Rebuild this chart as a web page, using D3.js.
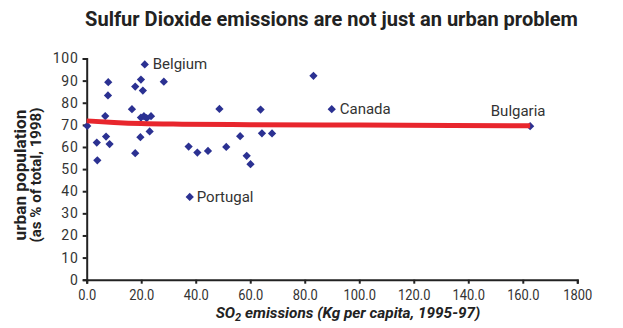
<!DOCTYPE html>
<html>
<head>
<meta charset="utf-8">
<script src="https://cdn.jsdelivr.net/npm/d3@7/dist/d3.min.js"></script>
<style>
  html, body { margin: 0; padding: 0; background: #fff; }
  svg { display: block; }
  text { font-family: Roboto, "Liberation Sans", sans-serif; }
</style>
</head>
<body>
<svg id="chart" width="623" height="328"></svg>
<script>
// SO2 emissions per capita (kg, 1995-97) against urban population share (% of total, 1998)
const so2 = [0.2, 3.7, 3.9, 6.8, 7.1, 7.9, 7.8, 8.4, 16.6, 17.8, 17.8, 19.9, 19.7, 20.6, 21.3,
             19.9, 21.0, 22.0, 23.6, 23.1, 28.3, 37.4, 37.8, 40.6, 44.5, 48.7, 51.2, 56.3, 58.7,
             60.1, 63.8, 64.3, 68.0, 83.2, 89.9, 162.7];
const urban = [69.5, 62.0, 54.0, 74.0, 64.7, 89.3, 83.3, 61.3, 77.1, 87.3, 57.2, 90.5, 64.4, 85.5, 97.3,
               73.3, 73.9, 73.0, 73.9, 67.0, 89.5, 60.2, 37.4, 57.5, 58.2, 77.2, 60.0, 64.9, 56.0,
               52.2, 76.9, 66.2, 66.1, 92.2, 77.1, 69.4];
const country = ["", "", "", "", "", "", "", "", "", "", "", "", "", "", "Belgium",
                 "", "", "", "", "", "", "", "Portugal", "", "", "", "", "", "",
                 "", "", "", "", "", "Canada", "Bulgaria"];

// Trend line through the cloud
const trendX = [0, 10, 20, 35, 60, 100, 162.7];
const trendY = [71.8, 71.1, 70.6, 70.3, 70.1, 69.9, 69.6];

const xTicks = [0, 20, 40, 60, 80, 100, 120, 140, 160, 180];
const xTickLabels = ["0.0", "20.0", "40.0", "60.0", "80.0", "100.0", "120.0", "140.0", "160.0", "1800"];
const yTicks = [0, 10, 20, 30, 40, 50, 60, 70, 80, 90, 100];

const svg = d3.select("#chart");
const ink = "#222";
const markColor = "#2b3192";
const lineColor = "#e8262d";

const x = d3.scaleLinear().domain([0, 180]).range([86.7, 577.3]);
const y = d3.scaleLinear().domain([0, 100]).range([279.7, 58.5]);

// fit a text element to a target width by adjusting its font size
function fitWidth(sel, target) {
  const node = sel.node();
  const fs = parseFloat(sel.attr("font-size"));
  const w = node.getComputedTextLength();
  sel.attr("font-size", (fs * target / w).toFixed(2));
}

// Title
const title = svg.append("text")
  .attr("x", 331.5).attr("y", 25.5)
  .attr("text-anchor", "middle")
  .attr("font-size", 18).attr("font-weight", "bold").attr("fill", ink)
  .text("Sulfur Dioxide emissions are not just an urban problem");
fitWidth(title, 493);

// Axes
const xAxis = d3.axisBottom(x).tickValues(xTicks)
  .tickFormat((d, i) => xTickLabels[i]).tickSize(4).tickPadding(6);
const gx = svg.append("g").attr("transform", `translate(0,${y(0)})`).call(xAxis);
gx.select(".domain").attr("stroke", ink).attr("stroke-width", 2);
gx.selectAll(".tick line").attr("stroke", ink).attr("stroke-width", 2);
gx.selectAll(".tick text").attr("fill", "#333").attr("font-size", 14)
  .attr("font-family", "Roboto, sans-serif")
  .attr("transform", "scale(0.92,1)");

const yAxis = d3.axisLeft(y).tickValues(yTicks).tickSize(4).tickPadding(5);
const gy = svg.append("g").attr("transform", `translate(${x(0)},0)`).call(yAxis);
gy.select(".domain").attr("stroke", ink).attr("stroke-width", 2);
gy.selectAll(".tick line").attr("stroke", ink).attr("stroke-width", 2);
gy.selectAll(".tick text").attr("fill", "#333").attr("font-size", 14)
  .attr("letter-spacing", 0.8).attr("dx", 1);

// Axis titles
const xt = svg.append("text")
  .attr("x", 348).attr("y", 318)
  .attr("text-anchor", "middle")
  .attr("font-size", 15.5).attr("font-weight", "bold").attr("font-style", "italic").attr("fill", ink);
xt.append("tspan").text("SO");
xt.append("tspan").attr("font-size", 11).attr("dy", 3).text("2");
xt.append("tspan").attr("dy", -3).text(" emissions (Kg per capita, 1995-97)");
{
  const w = xt.node().getComputedTextLength();
  xt.attr("transform", `translate(348,0) scale(${265 / w},1) translate(-348,0)`);
}

const yt1 = svg.append("text")
  .attr("transform", "translate(26,175) rotate(-90)")
  .attr("text-anchor", "middle")
  .attr("font-size", 14).attr("font-weight", "bold").attr("fill", ink)
  .text("urban population");
fitWidth(yt1, 131);
const yt2 = svg.append("text")
  .attr("transform", "translate(41,175) rotate(-90)")
  .attr("text-anchor", "middle")
  .attr("font-size", 14).attr("font-weight", "bold").attr("fill", ink)
  .text("(as % of total, 1998)");
fitWidth(yt2, 135);

// Points
const pts = so2.map((v, i) => ({ x: v, y: urban[i], name: country[i] }));
const diamond = d3.symbol().type(d3.symbolSquare).size(34);
svg.append("g").selectAll("path").data(pts).join("path")
  .attr("d", diamond)
  .attr("transform", d => `translate(${x(d.x)},${y(d.y)}) rotate(45)`)
  .attr("fill", markColor);

// Trend line
const trend = trendX.map((v, i) => [v, trendY[i]]);
svg.append("path")
  .attr("d", d3.line().x(d => x(d[0])).y(d => y(d[1])).curve(d3.curveMonotoneX)(trend))
  .attr("fill", "none").attr("stroke", lineColor).attr("stroke-width", 5);

// Country labels
const labelPos = {
  Belgium: { dx: 8, dy: 5, anchor: "start" },
  Portugal: { dx: 7, dy: 5, anchor: "start" },
  Canada: { dx: 8, dy: 5, anchor: "start" },
  Bulgaria: { dx: -12, dy: -10, anchor: "middle" }
};
svg.append("g").selectAll("text").data(pts.filter(d => d.name)).join("text")
  .attr("x", d => x(d.x) + labelPos[d.name].dx)
  .attr("y", d => y(d.y) + labelPos[d.name].dy)
  .attr("text-anchor", d => labelPos[d.name].anchor)
  .attr("font-size", 15).attr("fill", "#333")
  .text(d => d.name);
</script>
</body>
</html>
